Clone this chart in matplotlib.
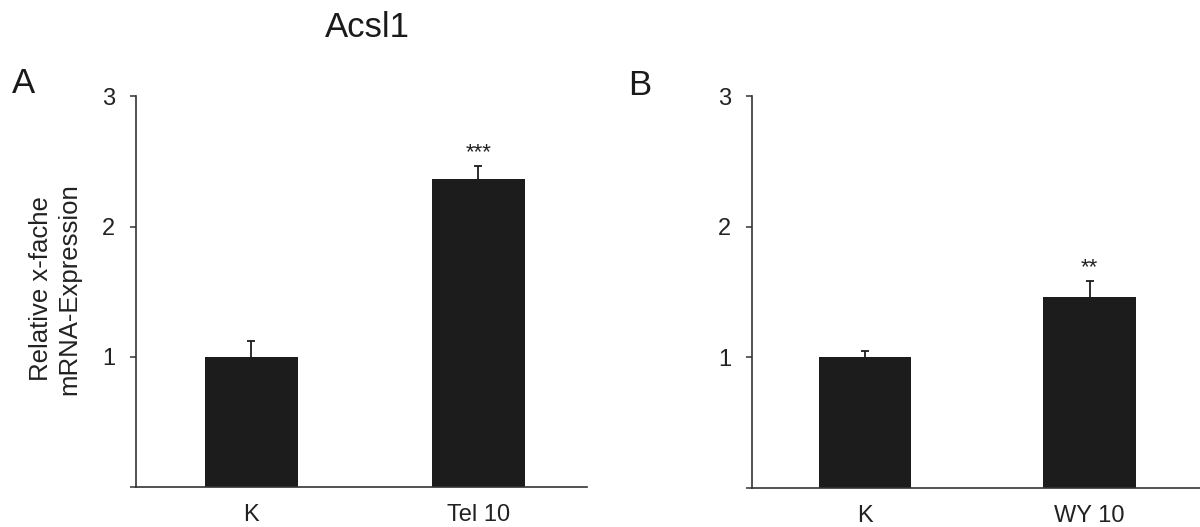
import matplotlib.pyplot as plt

plt.rcParams['font.family'] = ['Liberation Sans', 'DejaVu Sans']

# data
groups_a = ['K', 'Tel 10']
values_a = [1.0, 2.37]
err_a = [0.12, 0.095]
stars_a = ['', '***']

groups_b = ['K', 'WY 10']
values_b = [1.0, 1.46]
err_b = [0.05, 0.125]
stars_b = ['', '**']

yticks = [0, 1, 2, 3]
ytick_labels = ['', '1', '2', '3']

bar_col = '#1c1c1c'
ax_col = '#333333'

fig = plt.figure(figsize=(12, 5.27), dpi=100)


def panel(rect, groups, vals, errs, stars, xlim):
    ax = fig.add_axes(rect)
    x = list(range(len(groups)))
    ax.bar(x, vals, width=0.41, color=bar_col, zorder=2)
    eb = ax.errorbar(x, vals, yerr=[[0] * len(errs), errs], fmt='none',
                     ecolor=bar_col, elinewidth=1.3, capsize=3.2, capthick=1.3, zorder=1)
    # only the upper cap, like the original
    eb[1][0].set_visible(False)
    for xi, v, e, s in zip(x, vals, errs, stars):
        if s:
            ax.text(xi, v + e + 0.1, s, ha='center', va='center', fontsize=16, color='#222222')
    ax.set_xlim(*xlim)
    ax.set_ylim(0, 3)
    ax.set_xticks(x)
    ax.set_xticklabels(groups, fontsize=17, color='#222222')
    ax.set_yticks(yticks)
    ax.set_yticklabels(ytick_labels, fontsize=17, color='#222222')
    ax.tick_params(axis='x', length=0, pad=12)
    ax.tick_params(axis='y', length=4, width=1.1, color=ax_col, pad=11)
    for sp in ['top', 'right']:
        ax.spines[sp].set_visible(False)
    for sp in ['left', 'bottom']:
        ax.spines[sp].set_color(ax_col)
        ax.spines[sp].set_linewidth(1.2)
    return ax


panel([0.1133, 0.0759, 0.376, 0.741], groups_a, values_a, err_a, stars_a, (-0.507, 1.48))
panel([0.6267, 0.0740, 0.3733, 0.743], groups_b, values_b, err_b, stars_b, (-0.503, 1.492))

fig.text(0.306, 0.948, 'Acsl1', ha='center', va='center', fontsize=25, color='#1a1a1a')
fig.text(0.020, 0.8425, 'A', ha='center', va='center', fontsize=25, color='#1a1a1a')
fig.text(0.533, 0.837, 'B', ha='center', va='center', fontsize=25, color='#1a1a1a')
fig.text(0.0460, 0.4516, 'Relative x-fache\nmRNA-Expression', ha='center', va='center',
         rotation=90, multialignment='center', fontsize=18.5, color='#222222', linespacing=1.25)

fig.savefig('out.png', dpi=100, facecolor='white')
